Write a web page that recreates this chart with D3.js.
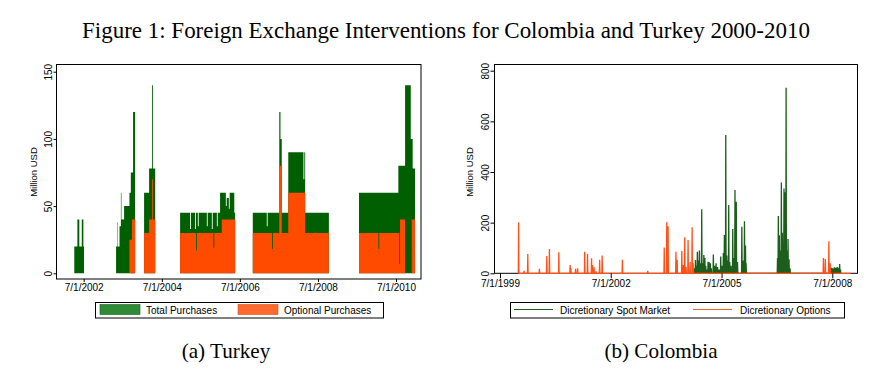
<!DOCTYPE html>
<html><head><meta charset="utf-8">
<script src="https://cdn.jsdelivr.net/npm/d3@7"></script>
<style>body{margin:0;background:#fff}svg{display:block}</style>
</head><body><div id="chart"></div>
<script>
// ---------- DATA ----------
// Turkey (panel a): step levels starting at each date (0 = no intervention)
const turkeyDates = [
 "2002-04-04","2002-05-03","2002-05-21","2002-06-13","2002-06-28","2002-07-04",
 "2003-04-30","2003-05-13","2003-05-17","2003-06-01","2003-06-14","2003-06-19","2003-07-14","2003-09-02","2003-09-15","2003-09-26","2003-10-06","2003-10-25",
 "2004-01-17","2004-03-04","2004-04-01","2004-04-09","2004-04-30",
 "2004-12-19","2005-03-23","2005-03-31","2005-05-09","2005-05-17","2005-05-25","2005-06-03","2005-06-11","2005-08-26","2005-09-03","2005-10-12","2005-10-20","2005-10-27","2005-11-04","2005-11-28","2005-12-06","2005-12-28","2006-01-13","2006-02-20","2006-02-28","2006-03-20","2006-03-28","2006-05-10","2006-05-18",
 "2006-10-30","2007-03-10","2007-03-18","2007-04-28","2007-05-06","2007-07-05","2007-07-16","2007-07-28","2007-09-27","2008-02-16","2008-02-24","2008-03-03","2008-10-11",
 "2009-07-20","2010-01-17","2010-01-25","2010-07-23","2010-08-01","2010-08-08","2010-09-24","2010-11-16","2010-11-25","2010-12-04","2010-12-26"
];
const turkeyTotal = [
 20,40,20,40,20,0,
 20,38,20,35,60,40,50,60,75,75,120,0,
 60,78,140,78,0,
 45,33,45,33,45,45,35,45,35,45,33,45,45,45,35,45,60,60,50,56,48,60,45,0,
 45,35,45,45,45,120,100,45,90,70,90,45,0,
 60,60,60,80,80,80,140,100,100,78,0
];
const turkeyOptional = [
 0,0,0,0,0,0,
 0,0,0,0,0,0,0,25,25,40,40,0,
 30,40,70,40,0,
 30,30,30,30,17,30,30,30,30,30,30,30,19,30,30,30,30,40,40,40,40,40,40,0,
 30,30,30,18,30,80,80,30,60,60,60,30,0,
 30,18,30,30,7,40,0,0,40,40,0
];
const turkeyXTicks = ["2002-07-01","2004-07-01","2006-07-01","2008-07-01","2010-07-01"];
const turkeyYTicks = [0,50,100,150];

// Colombia (panel b): intervention amounts on the days they occurred
const optionDates = [
 "2000-01-01","2000-02-24","2000-04-01","2000-07-25","2000-10-06","2000-11-01","2001-02-02","2001-05-25","2001-06-01","2001-07-18","2001-08-07",
 "2001-10-16","2001-11-13","2001-12-23","2002-01-01","2002-01-17","2002-02-06","2002-03-13","2002-04-07","2002-10-24","2003-07-02",
 "2003-12-12","2004-01-06","2004-01-19","2004-04-06","2004-04-18","2004-06-03","2004-06-16","2004-07-02","2004-07-15","2004-08-04","2004-08-24","2004-09-13","2004-09-23",
 "2008-04-04","2008-04-23","2008-05-28","2008-06-10","2008-12-31"
];
const optionValues = [
 201,10,76,18,68,96,83,33,20,18,20,
 85,76,59,33,24,8,53,70,53,10,
 102,202,186,85,53,88,33,142,25,131,45,182,40,
 60,56,127,40,0
];
const spotDates = [
 "2004-10-08","2004-10-16","2004-10-26","2004-11-04","2004-11-14","2004-11-24","2004-12-04","2004-12-17","2004-12-27","2005-01-07","2005-01-17","2005-01-26",
 "2005-02-08","2005-02-18","2005-02-28","2005-03-12","2005-03-22","2005-04-11","2005-04-23","2005-05-08","2005-05-23","2005-06-07","2005-06-23","2005-07-06",
 "2005-07-19","2005-07-29","2005-08-12","2005-08-22","2005-09-01","2005-09-10","2005-09-20","2005-10-03","2005-10-20","2005-10-30","2005-11-11","2005-11-24","2005-12-06",
 "2006-01-18","2006-01-28","2006-02-13","2006-02-23","2006-03-01",
 "2007-01-06","2007-01-14","2007-01-24","2007-02-03","2007-02-13","2007-02-23","2007-03-04","2007-03-11","2007-03-21","2007-04-01","2007-04-11","2007-04-20","2007-04-30","2007-05-10",
 "2008-06-20","2008-06-24","2008-07-08","2008-07-22","2008-08-05","2008-08-19","2008-09-02","2008-09-12","2008-09-20","2008-09-28"
];
const spotValues = [
 20,52,30,85,50,90,40,253,40,72,60,30,
 15,46,45,40,20,74,30,40,25,15,66,30,
 80,151,546,70,50,270,45,30,175,60,329,283,45,
 184,50,206,110,40,
 60,226,150,90,359,160,110,335,320,733,90,135,55,20,
 10,22,20,24,22,25,22,37,15,0
];
const colXTicks = ["1999-07-01","2002-07-01","2005-07-01","2008-07-01"];
const colYTicks = [0,200,400,600,800];

// ---------- DRAW ----------
const W = 875, H = 379;
const parse = d3.timeParse("%Y-%m-%d");
const fmt = d => (d.getMonth()+1) + "/" + d.getDate() + "/" + d.getFullYear();
const sans = "'Liberation Sans', Arial, sans-serif";
const serif = "'Liberation Serif', 'Times New Roman', serif";

const svg = d3.select("#chart").append("svg").attr("width", W).attr("height", H)
  .style("font-family", sans);

// Title
const title = svg.append("text").attr("x", 446).attr("y", 38).attr("text-anchor", "middle")
  .style("font-family", serif).style("font-size", "20px")
  .text("Figure 1: Foreign Exchange Interventions for Colombia and Turkey 2000-2010");
const tw = title.node().getComputedTextLength();
title.style("font-size", (20 * 728 / tw).toFixed(2) + "px");

// ----- Panel a: Turkey -----
const L = {x0: 56.5, x1: 421, y0: 64.5, y1: 279};
const xL = d3.scaleTime().domain([parse("2002-07-01"), parse("2010-07-01")]).range([83.7, 396]);
const yL = d3.scaleLinear().domain([0, 150]).range([273.3, 71.7]);
const tData = turkeyDates.map((d, i) => ({date: parse(d), total: turkeyTotal[i], opt: turkeyOptional[i]}));

svg.append("defs").append("clipPath").attr("id", "clipL").append("rect")
  .attr("x", L.x0).attr("y", L.y0).attr("width", L.x1 - L.x0).attr("height", L.y1 - L.y0);

const gL = svg.append("g").attr("clip-path", "url(#clipL)");
gL.append("path").datum(tData).attr("fill", "#005f00")
  .attr("d", d3.area().curve(d3.curveStepAfter).x(d => xL(d.date)).y0(yL(0)).y1(d => yL(d.total)));
gL.append("path").datum(tData).attr("fill", "#ff4b00")
  .attr("d", d3.area().curve(d3.curveStepAfter).x(d => xL(d.date)).y0(yL(0)).y1(d => yL(d.opt)));

svg.append("rect").attr("x", L.x0).attr("y", L.y0).attr("width", L.x1 - L.x0).attr("height", L.y1 - L.y0)
  .attr("fill", "none").attr("stroke", "#000").attr("stroke-width", 1);

const axL = svg.append("g").attr("transform", `translate(0,${L.y1})`)
  .call(d3.axisBottom(xL).tickValues(turkeyXTicks.map(parse)).tickFormat(fmt).tickSize(3).tickPadding(2));
axL.select(".domain").remove();
axL.selectAll("text").style("font-size", "10px").style("font-family", sans).attr("fill", "#000");

const ayL = svg.append("g").attr("transform", `translate(${L.x0},0)`)
  .call(d3.axisLeft(yL).tickValues(turkeyYTicks).tickSize(3));
ayL.select(".domain").remove();
ayL.selectAll("text").attr("transform", "rotate(-90)").attr("x", 0).attr("y", -4.5).attr("dy", 0)
  .attr("text-anchor", "middle").style("font-size", "10px").style("font-family", sans).attr("fill", "#000");

svg.append("text").attr("transform", "translate(37,172) rotate(-90)").attr("text-anchor", "middle")
  .style("font-size", "9.5px").text("Million USD");

// Legend a
const lgA = svg.append("g");
lgA.append("rect").attr("x", 95.5).attr("y", 302.5).attr("width", 288).attr("height", 15.5)
  .attr("fill", "#fff").attr("stroke", "#000");
lgA.append("rect").attr("x", 100).attr("y", 304.5).attr("width", 40).attr("height", 10)
  .attr("fill", "#2f8a35").attr("stroke", "#1d5c22").attr("stroke-width", 0.6);
lgA.append("text").attr("x", 146).attr("y", 313.5).style("font-size", "10px").text("Total Purchases");
lgA.append("rect").attr("x", 238).attr("y", 304.5).attr("width", 40).attr("height", 10)
  .attr("fill", "#ff6a30").attr("stroke", "#d9501c").attr("stroke-width", 0.6);
lgA.append("text").attr("x", 284).attr("y", 313.5).style("font-size", "10px").text("Optional Purchases");

// ----- Panel b: Colombia -----
const R = {x0: 494.5, x1: 857.5, y0: 64.5, y1: 273.3};
const xR = d3.scaleTime().domain([parse("1999-07-01"), parse("2008-07-01")]).range([500, 832.3]);
const yR = d3.scaleLinear().domain([0, 800]).range([273.3, 70.7]);
const DAY = 864e5;

function spikes(dates, values) {
  const pts = [];
  dates.forEach((d, i) => {
    const t = parse(d).getTime(), v = values[i];
    if (v === 0) { pts.push([t, 0]); }
    else { pts.push([t - 3 * DAY, 0], [t, v], [t + 3 * DAY, 0]); }
  });
  pts.sort((a, b) => a[0] - b[0]);
  return pts;
}
const lineR = d3.line().x(p => xR(new Date(p[0]))).y(p => yR(p[1]));

svg.append("defs").append("clipPath").attr("id", "clipR").append("rect")
  .attr("x", R.x0).attr("y", R.y0 - 1).attr("width", R.x1 - R.x0).attr("height", R.y1 - R.y0 + 2);

svg.append("rect").attr("x", R.x0).attr("y", R.y0).attr("width", R.x1 - R.x0).attr("height", R.y1 - R.y0)
  .attr("fill", "none").attr("stroke", "#000").attr("stroke-width", 1);

const gR = svg.append("g").attr("clip-path", "url(#clipR)");
gR.append("path").datum(spikes(spotDates, spotValues)).attr("fill", "none")
  .attr("stroke", "#1c5e1c").attr("stroke-width", 1.3).attr("d", lineR);
gR.append("path").datum(spikes(optionDates, optionValues)).attr("fill", "none")
  .attr("stroke", "#ff5018").attr("stroke-width", 1.3).attr("d", lineR);

const axR = svg.append("g").attr("transform", `translate(0,${R.y1})`)
  .call(d3.axisBottom(xR).tickValues(colXTicks.map(parse)).tickFormat(fmt).tickSize(5).tickPadding(2));
axR.select(".domain").remove();
axR.selectAll("text").style("font-size", "10px").style("font-family", sans).attr("fill", "#000");

const ayR = svg.append("g").attr("transform", `translate(${R.x0},0)`)
  .call(d3.axisLeft(yR).tickValues(colYTicks).tickSize(4));
ayR.select(".domain").remove();
ayR.selectAll("text").attr("transform", "rotate(-90)").attr("x", 0).attr("y", -6).attr("dy", 0)
  .attr("text-anchor", "middle").style("font-size", "10px").style("font-family", sans).attr("fill", "#000");

svg.append("text").attr("transform", "translate(473,172) rotate(-90)").attr("text-anchor", "middle")
  .style("font-size", "9.5px").text("Million USD");

// Legend b
const lgB = svg.append("g");
lgB.append("rect").attr("x", 510.5).attr("y", 302.5).attr("width", 334).attr("height", 15.5)
  .attr("fill", "#fff").attr("stroke", "#000");
lgB.append("line").attr("x1", 514).attr("x2", 553).attr("y1", 309.5).attr("y2", 309.5)
  .attr("stroke", "#1c5e1c").attr("stroke-width", 1);
lgB.append("text").attr("x", 560).attr("y", 313.5).style("font-size", "10px").text("Dicretionary Spot Market");
lgB.append("line").attr("x1", 693).attr("x2", 732).attr("y1", 309.5).attr("y2", 309.5)
  .attr("stroke", "#e8682c").attr("stroke-width", 1);
lgB.append("text").attr("x", 740).attr("y", 313.5).style("font-size", "10px").text("Dicretionary Options");

// Captions
const capSize = (20 * 728 / tw * 0.92).toFixed(2) + "px";
svg.append("text").attr("x", 226).attr("y", 358).attr("text-anchor", "middle")
  .style("font-family", serif).style("font-size", capSize).text("(a) Turkey");
svg.append("text").attr("x", 661).attr("y", 358).attr("text-anchor", "middle")
  .style("font-family", serif).style("font-size", capSize).text("(b) Colombia");
</script>
</body></html>
